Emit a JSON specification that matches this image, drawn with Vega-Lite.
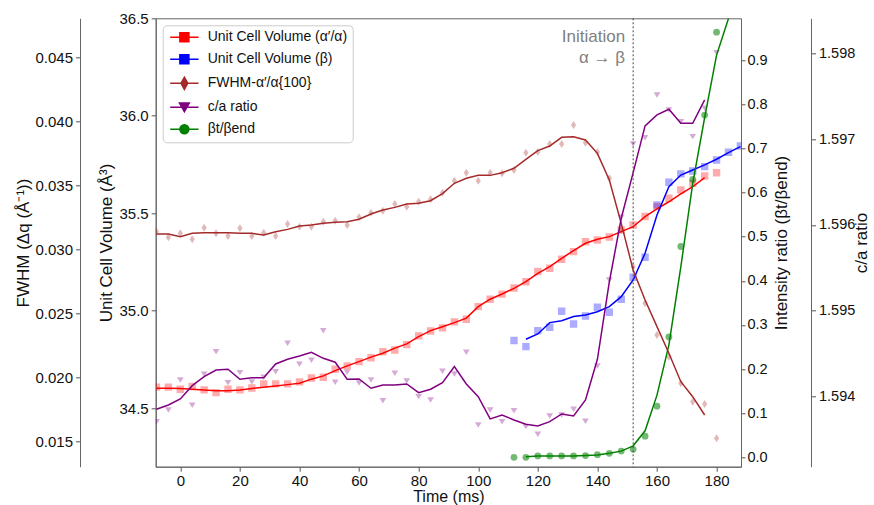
{
  "$schema": "https://vega.github.io/schema/vega-lite/v6.json",
  "width": 585.3,
  "height": 448.4,
  "autosize": {"type": "none"},
  "padding": {"left": 155.7, "top": 18.3, "right": 133, "bottom": 38.3},
  "config": {
    "font": "Liberation Sans",
    "view": {"stroke": "#666666", "strokeWidth": 1},
    "axis": {
      "labelFont": "Liberation Sans", "labelFontSize": 15, "labelColor": "#111111",
      "titleFont": "Liberation Sans", "titleFontSize": 17, "titleFontWeight": "normal", "titleColor": "#111111",
      "domainColor": "#666666", "tickColor": "#555555", "tickSize": 4.5, "labelPadding": 3,
      "grid": false, "labelFlush": false, "labelOverlap": false
    }
  },
  "datasets": {
    "volA_pts": [
      {"t": -8, "v": 34.608}, {"t": -4, "v": 34.608}, {"t": 0, "v": 34.597}, {"t": 4, "v": 34.611}, {"t": 8, "v": 34.594},
      {"t": 12, "v": 34.580}, {"t": 16, "v": 34.597}, {"t": 20, "v": 34.594}, {"t": 24, "v": 34.604}, {"t": 28, "v": 34.625},
      {"t": 32, "v": 34.625}, {"t": 36, "v": 34.625}, {"t": 40, "v": 34.635}, {"t": 44, "v": 34.655}, {"t": 48, "v": 34.659},
      {"t": 52, "v": 34.700}, {"t": 56, "v": 34.717}, {"t": 60, "v": 34.739}, {"t": 64, "v": 34.759}, {"t": 68, "v": 34.790},
      {"t": 72, "v": 34.799}, {"t": 76, "v": 34.826}, {"t": 80, "v": 34.871}, {"t": 84, "v": 34.896}, {"t": 88, "v": 34.912},
      {"t": 92, "v": 34.943}, {"t": 96, "v": 34.956}, {"t": 100, "v": 35.021}, {"t": 104, "v": 35.059}, {"t": 108, "v": 35.085},
      {"t": 112, "v": 35.117}, {"t": 116, "v": 35.149}, {"t": 120, "v": 35.201}, {"t": 124, "v": 35.218}, {"t": 128, "v": 35.264},
      {"t": 132, "v": 35.303}, {"t": 136, "v": 35.354}, {"t": 140, "v": 35.363}, {"t": 144, "v": 35.378}, {"t": 148, "v": 35.414},
      {"t": 152, "v": 35.440}, {"t": 156, "v": 35.483}, {"t": 160, "v": 35.534}, {"t": 164, "v": 35.577}, {"t": 168, "v": 35.619},
      {"t": 172, "v": 35.654}, {"t": 176, "v": 35.691}, {"t": 180, "v": 35.708}
    ],
    "volA_line": [
      {"t": -8, "v": 34.603}, {"t": -4, "v": 34.603}, {"t": 0, "v": 34.601}, {"t": 4, "v": 34.597}, {"t": 8, "v": 34.594},
      {"t": 12, "v": 34.590}, {"t": 16, "v": 34.590}, {"t": 20, "v": 34.594}, {"t": 24, "v": 34.601}, {"t": 28, "v": 34.608},
      {"t": 32, "v": 34.614}, {"t": 36, "v": 34.621}, {"t": 40, "v": 34.628}, {"t": 44, "v": 34.649}, {"t": 48, "v": 34.666},
      {"t": 52, "v": 34.693}, {"t": 56, "v": 34.717}, {"t": 60, "v": 34.739}, {"t": 64, "v": 34.762}, {"t": 68, "v": 34.782},
      {"t": 72, "v": 34.808}, {"t": 76, "v": 34.830}, {"t": 80, "v": 34.867}, {"t": 84, "v": 34.898}, {"t": 88, "v": 34.918},
      {"t": 92, "v": 34.939}, {"t": 96, "v": 34.962}, {"t": 100, "v": 35.021}, {"t": 104, "v": 35.059}, {"t": 108, "v": 35.086},
      {"t": 112, "v": 35.115}, {"t": 116, "v": 35.149}, {"t": 120, "v": 35.192}, {"t": 124, "v": 35.226}, {"t": 128, "v": 35.269},
      {"t": 132, "v": 35.308}, {"t": 136, "v": 35.346}, {"t": 140, "v": 35.367}, {"t": 144, "v": 35.380}, {"t": 148, "v": 35.406},
      {"t": 152, "v": 35.431}, {"t": 156, "v": 35.483}, {"t": 160, "v": 35.522}, {"t": 164, "v": 35.559}, {"t": 168, "v": 35.599},
      {"t": 172, "v": 35.636}, {"t": 176, "v": 35.683}
    ],
    "volB_pts": [
      {"t": 112, "v": 34.847}, {"t": 116, "v": 34.816}, {"t": 120, "v": 34.898}, {"t": 124, "v": 34.915}, {"t": 128, "v": 34.997},
      {"t": 132, "v": 34.932}, {"t": 136, "v": 34.973}, {"t": 140, "v": 35.018}, {"t": 144, "v": 34.992}, {"t": 148, "v": 35.059},
      {"t": 152, "v": 35.172}, {"t": 156, "v": 35.274}, {"t": 160, "v": 35.543}, {"t": 164, "v": 35.659}, {"t": 168, "v": 35.702},
      {"t": 172, "v": 35.717}, {"t": 176, "v": 35.739}, {"t": 180, "v": 35.773}, {"t": 184, "v": 35.813}, {"t": 188, "v": 35.845}
    ],
    "volB_line": [
      {"t": 116, "v": 34.854}, {"t": 120, "v": 34.881}, {"t": 124, "v": 34.939}, {"t": 128, "v": 34.949}, {"t": 132, "v": 34.970},
      {"t": 136, "v": 34.978}, {"t": 140, "v": 34.995}, {"t": 144, "v": 35.021}, {"t": 148, "v": 35.072}, {"t": 152, "v": 35.158},
      {"t": 156, "v": 35.295}, {"t": 160, "v": 35.491}, {"t": 164, "v": 35.636}, {"t": 168, "v": 35.696}, {"t": 172, "v": 35.722},
      {"t": 176, "v": 35.748}, {"t": 180, "v": 35.777}, {"t": 184, "v": 35.811}, {"t": 188, "v": 35.842}
    ],
    "fwhm_pts": [
      {"t": -8, "v": 0.03137}, {"t": -4, "v": 0.03093}, {"t": 0, "v": 0.03124}, {"t": 4, "v": 0.03077}, {"t": 8, "v": 0.03168},
      {"t": 12, "v": 0.03124}, {"t": 16, "v": 0.03103}, {"t": 20, "v": 0.03163}, {"t": 24, "v": 0.03103}, {"t": 28, "v": 0.03129},
      {"t": 32, "v": 0.03103}, {"t": 36, "v": 0.03197}, {"t": 40, "v": 0.03176}, {"t": 44, "v": 0.03176}, {"t": 48, "v": 0.03215},
      {"t": 52, "v": 0.03223}, {"t": 56, "v": 0.03189}, {"t": 60, "v": 0.03249}, {"t": 64, "v": 0.03285}, {"t": 68, "v": 0.03301},
      {"t": 72, "v": 0.03353}, {"t": 76, "v": 0.03332}, {"t": 80, "v": 0.03371}, {"t": 84, "v": 0.03390}, {"t": 88, "v": 0.03441},
      {"t": 92, "v": 0.03535}, {"t": 96, "v": 0.03598}, {"t": 100, "v": 0.03535}, {"t": 104, "v": 0.03598}, {"t": 108, "v": 0.03593},
      {"t": 112, "v": 0.03619}, {"t": 116, "v": 0.03754}, {"t": 120, "v": 0.03759}, {"t": 124, "v": 0.03822}, {"t": 128, "v": 0.03822},
      {"t": 132, "v": 0.03970}, {"t": 136, "v": 0.03832}, {"t": 140, "v": 0.03759}, {"t": 144, "v": 0.03554}, {"t": 148, "v": 0.03150},
      {"t": 152, "v": 0.02863}, {"t": 156, "v": 0.02577}, {"t": 160, "v": 0.02330}, {"t": 164, "v": 0.02160}, {"t": 168, "v": 0.01952},
      {"t": 172, "v": 0.01809}, {"t": 176, "v": 0.01791}, {"t": 180, "v": 0.01523}
    ],
    "fwhm_line": [
      {"t": -8, "v": 0.03119}, {"t": -4, "v": 0.03119}, {"t": 0, "v": 0.03098}, {"t": 4, "v": 0.03124}, {"t": 8, "v": 0.03129},
      {"t": 12, "v": 0.03129}, {"t": 16, "v": 0.03129}, {"t": 20, "v": 0.03124}, {"t": 24, "v": 0.03124}, {"t": 28, "v": 0.03111},
      {"t": 32, "v": 0.03137}, {"t": 36, "v": 0.03155}, {"t": 40, "v": 0.03181}, {"t": 44, "v": 0.03189}, {"t": 48, "v": 0.03202},
      {"t": 52, "v": 0.03210}, {"t": 56, "v": 0.03215}, {"t": 60, "v": 0.03234}, {"t": 64, "v": 0.03275}, {"t": 68, "v": 0.03306},
      {"t": 72, "v": 0.03327}, {"t": 76, "v": 0.03353}, {"t": 80, "v": 0.03359}, {"t": 84, "v": 0.03379}, {"t": 88, "v": 0.03435},
      {"t": 92, "v": 0.03515}, {"t": 96, "v": 0.03554}, {"t": 100, "v": 0.03577}, {"t": 104, "v": 0.03577}, {"t": 108, "v": 0.03598},
      {"t": 112, "v": 0.03632}, {"t": 116, "v": 0.03702}, {"t": 120, "v": 0.03770}, {"t": 124, "v": 0.03806}, {"t": 128, "v": 0.03874},
      {"t": 132, "v": 0.03879}, {"t": 136, "v": 0.03853}, {"t": 140, "v": 0.03749}, {"t": 144, "v": 0.03541}, {"t": 148, "v": 0.03202},
      {"t": 152, "v": 0.02838}, {"t": 156, "v": 0.02603}, {"t": 160, "v": 0.02395}, {"t": 164, "v": 0.02187}, {"t": 168, "v": 0.01965},
      {"t": 172, "v": 0.01848}, {"t": 176, "v": 0.01705}
    ],
    "ca_pts": [
      {"t": -8, "v": 1.593706}, {"t": -4, "v": 1.593843}, {"t": 0, "v": 1.594192}, {"t": 4, "v": 1.593897}, {"t": 8, "v": 1.594259},
      {"t": 12, "v": 1.594522}, {"t": 16, "v": 1.594161}, {"t": 20, "v": 1.594278}, {"t": 24, "v": 1.594169}, {"t": 28, "v": 1.594224},
      {"t": 32, "v": 1.594289}, {"t": 36, "v": 1.594620}, {"t": 40, "v": 1.594376}, {"t": 44, "v": 1.594422}, {"t": 48, "v": 1.594767},
      {"t": 52, "v": 1.594166}, {"t": 56, "v": 1.594282}, {"t": 60, "v": 1.594157}, {"t": 64, "v": 1.594192}, {"t": 68, "v": 1.593951},
      {"t": 72, "v": 1.594271}, {"t": 76, "v": 1.594181}, {"t": 80, "v": 1.593998}, {"t": 84, "v": 1.593959}, {"t": 88, "v": 1.594294},
      {"t": 92, "v": 1.594262}, {"t": 96, "v": 1.594515}, {"t": 100, "v": 1.593668}, {"t": 104, "v": 1.593843}, {"t": 108, "v": 1.593706},
      {"t": 112, "v": 1.593834}, {"t": 116, "v": 1.593648}, {"t": 120, "v": 1.593559}, {"t": 124, "v": 1.593773}, {"t": 128, "v": 1.593784},
      {"t": 132, "v": 1.593851}, {"t": 136, "v": 1.593711}, {"t": 140, "v": 1.594356}, {"t": 144, "v": 1.595359}, {"t": 148, "v": 1.596090},
      {"t": 152, "v": 1.596945}, {"t": 156, "v": 1.597018}, {"t": 160, "v": 1.597516}, {"t": 164, "v": 1.597341}, {"t": 168, "v": 1.597205},
      {"t": 172, "v": 1.597030}, {"t": 176, "v": 1.597361}, {"t": 180, "v": 1.598009}
    ],
    "ca_line": [
      {"t": -8, "v": 1.593851}, {"t": -4, "v": 1.593901}, {"t": 0, "v": 1.593971}, {"t": 4, "v": 1.594126}, {"t": 8, "v": 1.594231},
      {"t": 12, "v": 1.594309}, {"t": 16, "v": 1.594317}, {"t": 20, "v": 1.594201}, {"t": 24, "v": 1.594219}, {"t": 28, "v": 1.594219},
      {"t": 32, "v": 1.594379}, {"t": 36, "v": 1.594434}, {"t": 40, "v": 1.594472}, {"t": 44, "v": 1.594515}, {"t": 48, "v": 1.594445},
      {"t": 52, "v": 1.594399}, {"t": 56, "v": 1.594201}, {"t": 60, "v": 1.594204}, {"t": 64, "v": 1.594096}, {"t": 68, "v": 1.594134},
      {"t": 72, "v": 1.594134}, {"t": 76, "v": 1.594146}, {"t": 80, "v": 1.594044}, {"t": 84, "v": 1.594084}, {"t": 88, "v": 1.594161},
      {"t": 92, "v": 1.594348}, {"t": 96, "v": 1.594146}, {"t": 100, "v": 1.593998}, {"t": 104, "v": 1.593738}, {"t": 108, "v": 1.593784},
      {"t": 112, "v": 1.593726}, {"t": 116, "v": 1.593676}, {"t": 120, "v": 1.593656}, {"t": 124, "v": 1.593706}, {"t": 128, "v": 1.593796},
      {"t": 132, "v": 1.593773}, {"t": 136, "v": 1.593959}, {"t": 140, "v": 1.594434}, {"t": 144, "v": 1.595335}, {"t": 148, "v": 1.596078},
      {"t": 152, "v": 1.596610}, {"t": 156, "v": 1.597155}, {"t": 160, "v": 1.597283}, {"t": 164, "v": 1.597349}, {"t": 168, "v": 1.597186},
      {"t": 172, "v": 1.597186}, {"t": 176, "v": 1.597458}
    ],
    "beta_pts": [
      {"t": 112, "v": 0.000}, {"t": 116, "v": 0.000}, {"t": 120, "v": 0.003}, {"t": 124, "v": 0.003}, {"t": 128, "v": 0.003},
      {"t": 132, "v": 0.003}, {"t": 136, "v": 0.004}, {"t": 140, "v": 0.006}, {"t": 144, "v": 0.009}, {"t": 148, "v": 0.014},
      {"t": 152, "v": 0.018}, {"t": 156, "v": 0.048}, {"t": 160, "v": 0.116}, {"t": 164, "v": 0.273}, {"t": 168, "v": 0.478},
      {"t": 172, "v": 0.630}, {"t": 176, "v": 0.776}, {"t": 180, "v": 0.964}
    ],
    "beta_line": [
      {"t": 116, "v": 0.001}, {"t": 120, "v": 0.003}, {"t": 124, "v": 0.003}, {"t": 128, "v": 0.003}, {"t": 132, "v": 0.003},
      {"t": 136, "v": 0.004}, {"t": 140, "v": 0.005}, {"t": 144, "v": 0.009}, {"t": 148, "v": 0.014}, {"t": 152, "v": 0.026},
      {"t": 156, "v": 0.060}, {"t": 160, "v": 0.141}, {"t": 164, "v": 0.255}, {"t": 168, "v": 0.432}, {"t": 172, "v": 0.621},
      {"t": 176, "v": 0.770}, {"t": 180, "v": 0.912}, {"t": 184, "v": 0.995}
    ],
    "onset": [{"t": 152}],
    "notes": [
      {"t": 149.3, "v": 0.954, "label": "Initiation"},
      {"t": 149.3, "v": 0.906, "label": "α → β"}
    ]
  },
  "encoding": {
    "x": {
      "field": "t", "type": "quantitative",
      "scale": {"domain": [-8.26, 188.2], "nice": false, "zero": false},
      "axis": {"values": [0, 20, 40, 60, 80, 100, 120, 140, 160, 180], "title": "Time (ms)", "titleFontSize": 16, "titlePadding": 0, "labelPadding": 2}
    }
  },
  "layer": [
    {
      "encoding": {
        "y": {
          "field": "v", "type": "quantitative",
          "scale": {"domain": [34.2, 36.5], "nice": false, "zero": false},
          "axis": {"orient": "left", "values": [34.5, 35.0, 35.5, 36.0, 36.5], "format": ".1f", "title": "Unit Cell Volume (Å³)", "titlePadding": 4}
        }
      },
      "layer": [
        {
          "data": {"name": "volA_pts"},
          "mark": {"type": "point", "filled": true, "shape": "square", "size": 55, "opacity": 0.33, "strokeWidth": 0, "clip": true},
          "encoding": {
            "color": {
              "datum": "Unit Cell Volume (α′/α)",
              "scale": {
                "domain": ["Unit Cell Volume (α′/α)", "Unit Cell Volume (β)", "FWHM-α′/α{100}", "c/a ratio", "βt/βend"],
                "range": ["#ff0000", "#0000ff", "#a52a2a", "#800080", "#008000"]
              },
              "legend": {
                "title": null, "orient": "top-left", "offset": 7, "padding": 5,
                "fillColor": "rgba(255,255,255,0.85)", "strokeColor": "#cccccc", "cornerRadius": 4,
                "labelFont": "Liberation Sans", "labelFontSize": 14, "labelColor": "#111111",
                "symbolSize": 81, "symbolStrokeWidth": 1.5, "symbolOpacity": 1,
                "labelOffset": 26, "rowPadding": 6,
                "encode": {
                  "symbols": {
                    "update": {
                      "shape": {"signal": "['M-1,0H5.3M1.15,-1H3.15V1H1.15Z','M-1,0H5.3M1.15,-1H3.15V1H1.15Z','M-1,0H5.3M2.15,-1.35L2.9,0L2.15,1.35L1.4,0Z','M-1,0H5.3M1.05,-0.95H3.25L2.15,1Z','M-1,0H5.3M1.15,0A1,1 0 1,0 3.15,0A1,1 0 1,0 1.15,0Z'][datum.index]"},
                      "fill": {"signal": "scale('color', datum.value)"},
                      "stroke": {"signal": "scale('color', datum.value)"},
                      "strokeWidth": {"value": 1.5},
                      "opacity": {"value": 1},
                      "size": {"value": 81}
                    }
                  }
                }
              }
            }
          }
        },
        {
          "data": {"name": "volB_pts"},
          "mark": {"type": "point", "filled": true, "shape": "square", "size": 55, "opacity": 0.33, "strokeWidth": 0, "clip": true},
          "encoding": {"color": {"datum": "Unit Cell Volume (β)"}}
        },
        {
          "data": {"name": "volA_line"},
          "mark": {"type": "line", "color": "#ff0000", "strokeWidth": 1.5, "clip": true},
          "encoding": {}
        },
        {
          "data": {"name": "volB_line"},
          "mark": {"type": "line", "color": "#0000ff", "strokeWidth": 1.5, "clip": true},
          "encoding": {}
        }
      ]
    },
    {
      "encoding": {
        "y": {
          "field": "v", "type": "quantitative",
          "scale": {"domain": [0.01301, 0.04804], "nice": false, "zero": false},
          "axis": {"orient": "left", "offset": 75.7, "values": [0.015, 0.02, 0.025, 0.03, 0.035, 0.04, 0.045], "format": ".3f", "title": "FWHM (Δq (Å⁻¹))", "titlePadding": 2}
        }
      },
      "layer": [
        {
          "data": {"name": "fwhm_pts"},
          "mark": {"type": "point", "filled": true, "shape": "M0,-1L0.65,0L0,1L-0.65,0Z", "size": 64, "opacity": 0.33, "strokeWidth": 0, "clip": true},
          "encoding": {"color": {"datum": "FWHM-α′/α{100}"}}
        },
        {
          "data": {"name": "fwhm_line"},
          "mark": {"type": "line", "color": "#a52a2a", "strokeWidth": 1.5, "clip": true},
          "encoding": {}
        }
      ]
    },
    {
      "encoding": {
        "y": {
          "field": "v", "type": "quantitative",
          "scale": {"domain": [1.593181, 1.59841], "nice": false, "zero": false},
          "axis": {"orient": "right", "offset": 70, "values": [1.594, 1.595, 1.596, 1.597, 1.598], "format": ".3f", "labelFontSize": 14.5, "title": "c/a ratio", "titleAngle": 270, "titleBaseline": "top", "titlePadding": -1}
        }
      },
      "layer": [
        {
          "data": {"name": "ca_pts"},
          "mark": {"type": "point", "filled": true, "shape": "M-1,-0.8L1,-0.8L0,0.8Z", "size": 46, "opacity": 0.33, "strokeWidth": 0, "clip": true},
          "encoding": {"color": {"datum": "c/a ratio"}}
        },
        {
          "data": {"name": "ca_line"},
          "mark": {"type": "line", "color": "#800080", "strokeWidth": 1.5, "clip": true},
          "encoding": {}
        }
      ]
    },
    {
      "encoding": {
        "y": {
          "field": "v", "type": "quantitative",
          "scale": {"domain": [-0.02132, 0.99546], "nice": false, "zero": false},
          "axis": {"orient": "right", "values": [0, 0.1, 0.2, 0.3, 0.4, 0.5, 0.6, 0.7, 0.8, 0.9], "format": ".1f", "labelFontSize": 14.5, "title": "Intensity ratio (βt/βend)", "titleAngle": 270, "titleBaseline": "top", "titlePadding": 6, "tickSize": 4, "labelPadding": 2}
        }
      },
      "layer": [
        {
          "data": {"name": "beta_pts"},
          "mark": {"type": "point", "filled": true, "shape": "circle", "size": 46, "opacity": 0.55, "strokeWidth": 0, "clip": true},
          "encoding": {"color": {"datum": "βt/βend"}}
        },
        {
          "data": {"name": "beta_line"},
          "mark": {"type": "line", "color": "#008000", "strokeWidth": 1.5, "clip": true},
          "encoding": {}
        },
        {
          "data": {"name": "notes"},
          "mark": {"type": "text", "align": "right", "baseline": "middle", "font": "Liberation Sans", "fontSize": 17, "color": "#808080"},
          "encoding": {"text": {"field": "label"}}
        }
      ]
    },
    {
      "data": {"name": "onset"},
      "mark": {"type": "rule", "color": "#444444", "strokeWidth": 1, "strokeDash": [2, 2]},
      "encoding": {}
    }
  ],
  "resolve": {"scale": {"y": "independent"}, "axis": {"y": "independent"}}
}
